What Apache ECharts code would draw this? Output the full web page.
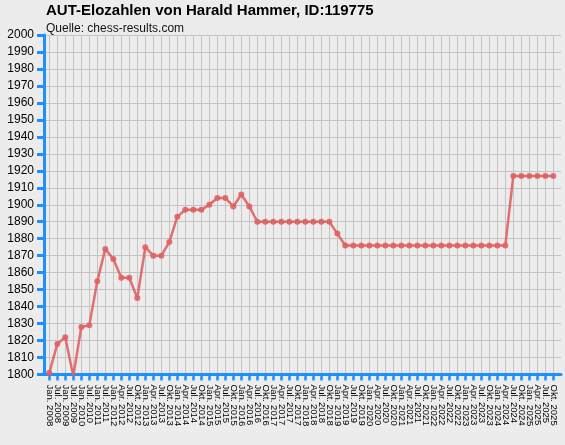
<!DOCTYPE html>
<html>
<head>
<meta charset="utf-8">
<script src="https://cdn.jsdelivr.net/npm/echarts@6/dist/echarts.min.js"></script>
<style>
html,body{margin:0;padding:0;background:#ECECEC;}
#chart{width:565px;height:445px;}
</style>
</head>
<body>
<div id="chart"></div>
<script>
var titleText = "AUT-Elozahlen von Harald Hammer, ID:119775";
var subtitleText = "Quelle: chess-results.com";

var categories = [
  "Jan. 2008","Jul. 2008","Jan. 2009","Jul. 2009","Jan. 2010","Jul. 2010","Jan. 2011","Jul. 2011",
  "Jan. 2012","Apr. 2012","Jul. 2012","Okt. 2012",
  "Jan. 2013","Apr. 2013","Jul. 2013","Okt. 2013",
  "Jan. 2014","Apr. 2014","Jul. 2014","Okt. 2014",
  "Jan. 2015","Apr. 2015","Jul. 2015","Okt. 2015",
  "Jan. 2016","Apr. 2016","Jul. 2016","Okt. 2016",
  "Jan. 2017","Apr. 2017","Jul. 2017","Okt. 2017",
  "Jan. 2018","Apr. 2018","Jul. 2018","Okt. 2018",
  "Jan. 2019","Apr. 2019","Jul. 2019","Okt. 2019",
  "Jan. 2020","Apr. 2020","Jul. 2020","Okt. 2020",
  "Jan. 2021","Apr. 2021","Jul. 2021","Okt. 2021",
  "Jan. 2022","Apr. 2022","Jul. 2022","Okt. 2022",
  "Jan. 2023","Apr. 2023","Jul. 2023","Okt. 2023",
  "Jan. 2024","Apr. 2024","Jul. 2024","Okt. 2024",
  "Jan. 2025","Apr. 2025","Jul. 2025","Okt. 2025"
];

var elo = [
  1801, 1818, 1822, 1799, 1828, 1829, 1855, 1874,
  1868, 1857, 1857, 1845,
  1875, 1870, 1870, 1878,
  1893, 1897, 1897, 1897,
  1900, 1904, 1904, 1899,
  1906, 1899, 1890, 1890,
  1890, 1890, 1890, 1890,
  1890, 1890, 1890, 1890,
  1883, 1876, 1876, 1876,
  1876, 1876, 1876, 1876,
  1876, 1876, 1876, 1876,
  1876, 1876, 1876, 1876,
  1876, 1876, 1876, 1876,
  1876, 1876, 1917, 1917,
  1917, 1917, 1917, 1917
];

var yMin = 1800, yMax = 2000, yStep = 10;

var blue = "#1E8FFF";
var gridGray = "#C4C4C4";
var FONT = "Liberation Sans, Arial, sans-serif";

var chart = echarts.init(document.getElementById("chart"), null, {renderer: "canvas"});
chart.setOption({
  backgroundColor: "#ECECEC",
  animation: false,
  title: {
    text: titleText,
    subtext: subtitleText,
    left: 46,
    top: 3,
    padding: 0,
    itemGap: 5,
    textStyle: {fontFamily: FONT, fontSize: 15, fontWeight: "bold", color: "#000"},
    subtextStyle: {fontFamily: FONT, fontSize: 12, color: "#111"}
  },
  grid: [
    {left: 44, right: 4, top: 35, bottom: 70.5},
    {left: 49.3, right: 11.7, top: 35, bottom: 70.5}
  ],
  xAxis: [
    {
      gridIndex: 0, type: "value", min: 0, max: 1,
      axisLine: {show: true, onZero: false, lineStyle: {color: blue, width: 3}},
      axisTick: {show: false}, axisLabel: {show: false}, splitLine: {show: false}
    },
    {
      gridIndex: 1, type: "category", data: categories, boundaryGap: false,
      axisLine: {show: false},
      axisTick: {show: true, alignWithLabel: true, interval: 0, length: 6, lineStyle: {color: blue, width: 2.5}},
      axisLabel: {interval: 0, rotate: -90, margin: 10, fontFamily: FONT, fontSize: 9.5, color: "#000"},
      splitLine: {show: true, interval: 0, lineStyle: {color: gridGray, width: 1}}
    }
  ],
  yAxis: [
    {
      gridIndex: 0, type: "value", min: yMin, max: yMax, interval: yStep,
      axisLine: {show: true, lineStyle: {color: blue, width: 3}},
      axisTick: {show: true, length: 7, lineStyle: {color: blue, width: 3}},
      axisLabel: {margin: 10, fontFamily: FONT, fontSize: 12, color: "#000",
        formatter: function (v) { return String(v); }},
      splitLine: {show: true, lineStyle: {color: gridGray, width: 1}}
    },
    {
      gridIndex: 1, type: "value", min: yMin, max: yMax, interval: yStep, show: false
    }
  ],
  series: [{
    type: "line",
    xAxisIndex: 1, yAxisIndex: 1,
    data: elo,
    symbol: "circle",
    symbolSize: 6,
    showAllSymbol: true,
    z: 5,
    lineStyle: {color: "rgba(224,98,98,0.9)", width: 2.5},
    itemStyle: {color: "rgba(224,98,98,0.9)"}
  }]
});
</script>
</body>
</html>
